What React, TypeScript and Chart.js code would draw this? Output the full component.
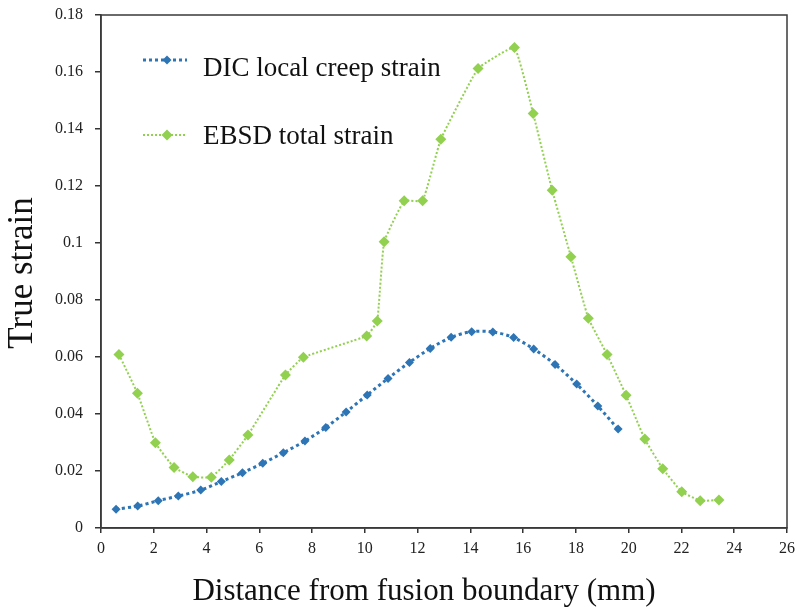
import { useEffect, useRef } from "react";
import { Chart, registerables } from "chart.js";

Chart.register(...registerables);

const seriesNames = ["DIC local creep strain", "EBSD total strain"];
const xTitle = "Distance from fusion boundary (mm)";
const yTitle = "True strain";

const dicX = [0.57, 1.39, 2.17, 2.93, 3.78, 4.56, 5.36, 6.13, 6.91, 7.73, 8.52, 9.29, 10.09, 10.88, 11.69, 12.48, 13.27, 14.05, 14.85, 15.64, 16.4, 17.21, 18.03, 18.83, 19.6];
const dicY = [0.0066, 0.0077, 0.0096, 0.0112, 0.0133, 0.0163, 0.0194, 0.0227, 0.0264, 0.0305, 0.0353, 0.0407, 0.0467, 0.0525, 0.0581, 0.063, 0.0669, 0.0689, 0.0688, 0.0668, 0.0628, 0.0574, 0.0505, 0.0428, 0.0347];

const ebsdX = [0.68, 1.38, 2.06, 2.77, 3.48, 4.18, 4.86, 5.57, 6.99, 7.67, 10.07, 10.47, 10.73, 11.49, 12.19, 12.88, 14.29, 15.67, 16.38, 17.1, 17.81, 18.47, 19.18, 19.9, 20.61, 21.29, 22.01, 22.71, 23.42];
const ebsdY = [0.0609, 0.0473, 0.0299, 0.0212, 0.018, 0.0178, 0.0239, 0.0326, 0.0537, 0.0599, 0.0674, 0.0726, 0.1004, 0.1148, 0.1148, 0.1364, 0.1612, 0.1686, 0.1454, 0.1185, 0.0952, 0.0736, 0.0609, 0.0466, 0.0312, 0.0208, 0.0127, 0.0096, 0.0098];

const xTicks = [0, 2, 4, 6, 8, 10, 12, 14, 16, 18, 20, 22, 24, 26];
const yTicks = [0, 0.02, 0.04, 0.06, 0.08, 0.1, 0.12, 0.14, 0.16, 0.18];
const yTickLabels = ["0", "0.02", "0.04", "0.06", "0.08", "0.1", "0.12", "0.14", "0.16", "0.18"];

const BLUE = "#2e75b6";
const GREEN = "#92d050";
const SERIF = "'Liberation Serif', 'Times New Roman', serif";

function diamond(ctx: CanvasRenderingContext2D, x: number, y: number, r: number, color: string) {
  ctx.beginPath();
  ctx.moveTo(x, y - r);
  ctx.lineTo(x + r, y);
  ctx.lineTo(x, y + r);
  ctx.lineTo(x - r, y);
  ctx.closePath();
  ctx.fillStyle = color;
  ctx.fill();
}

const decor = {
  id: "decor",
  afterDraw(chart: any) {
    const ctx: CanvasRenderingContext2D = chart.ctx;
    const a = chart.chartArea;
    ctx.save();
    ctx.strokeStyle = "#3a3a3a";
    ctx.lineWidth = 1.5;
    ctx.strokeRect(a.left, a.top, a.right - a.left, a.bottom - a.top);

    // legend inside plot
    const rows = [
      { lineY: a.top + 45, baseY: a.top + 61 },
      { lineY: a.top + 120, baseY: a.top + 129 },
    ];
    chart.data.datasets.forEach((ds: any, i: number) => {
      const r = rows[i];
      ctx.save();
      ctx.strokeStyle = ds.borderColor;
      ctx.lineWidth = ds.borderWidth;
      ctx.setLineDash(ds.borderDash);
      ctx.beginPath();
      ctx.moveTo(a.left + 42, r.lineY);
      ctx.lineTo(a.left + 86, r.lineY);
      ctx.stroke();
      ctx.setLineDash([]);
      diamond(ctx, a.left + 66, r.lineY, ds.pointRadius, ds.pointBackgroundColor);
      ctx.restore();
      ctx.fillStyle = "#111";
      ctx.font = `27px ${SERIF}`;
      ctx.textAlign = "left";
      ctx.textBaseline = "alphabetic";
      ctx.fillText(ds.label, a.left + 102, r.baseY);
    });

    // axis titles
    ctx.fillStyle = "#111";
    ctx.textAlign = "center";
    ctx.textBaseline = "alphabetic";
    ctx.font = `31px ${SERIF}`;
    ctx.fillText(xTitle, 424, 600);
    ctx.save();
    ctx.translate(32, 273);
    ctx.rotate(-Math.PI / 2);
    ctx.font = `35px ${SERIF}`;
    ctx.fillText(yTitle, 0, 0);
    ctx.restore();
    ctx.restore();
  },
};

export default function App() {
  const ref = useRef<HTMLCanvasElement | null>(null);
  useEffect(() => {
    if (!ref.current) return;
    const chart = new Chart(ref.current, {
      type: "scatter",
      data: {
        datasets: [
          {
            label: seriesNames[0],
            data: dicX.map((x, i) => ({ x, y: dicY[i] })),
            showLine: true,
            borderColor: BLUE,
            borderWidth: 3,
            borderDash: [3, 3],
            tension: 0.3,
            pointStyle: "rectRot",
            pointRadius: 4.5,
            pointBackgroundColor: BLUE,
            pointBorderColor: BLUE,
            pointBorderWidth: 0,
          },
          {
            label: seriesNames[1],
            data: ebsdX.map((x, i) => ({ x, y: ebsdY[i] })),
            showLine: true,
            borderColor: GREEN,
            borderWidth: 2,
            borderDash: [2, 2],
            tension: 0.1,
            pointStyle: "rectRot",
            pointRadius: 5.5,
            pointBackgroundColor: GREEN,
            pointBorderColor: GREEN,
            pointBorderWidth: 0,
          },
        ],
      },
      options: {
        responsive: false,
        animation: false,
        devicePixelRatio: 1,
        layout: { padding: { left: 0, top: 15, right: 10, bottom: 0 } },
        plugins: { legend: { display: false }, tooltip: { enabled: false } },
        scales: {
          x: {
            type: "linear",
            min: 0,
            max: 26,
            afterFit: (s: any) => {
              s.height = 79;
              s.paddingLeft = 0;
              s.paddingRight = 0;
            },
            afterBuildTicks: (s: any) => {
              s.ticks = xTicks.map((v) => ({ value: v }));
            },
            grid: { display: true, drawOnChartArea: false, drawTicks: true, tickLength: 5, color: "#333", lineWidth: 1.5 },
            border: { display: true, color: "#3a3a3a", width: 1.5 },
            ticks: { color: "#222", padding: 6, font: { family: SERIF, size: 16 }, maxRotation: 0, autoSkip: false },
          },
          y: {
            type: "linear",
            min: 0,
            max: 0.18,
            afterFit: (s: any) => {
              s.width = 101;
              s.paddingTop = 0;
              s.paddingBottom = 0;
            },
            afterBuildTicks: (s: any) => {
              s.ticks = yTicks.map((v) => ({ value: v }));
            },
            grid: { display: true, drawOnChartArea: false, drawTicks: true, tickLength: 6, color: "#333", lineWidth: 1.5 },
            border: { display: true, color: "#3a3a3a", width: 1.5 },
            ticks: {
              color: "#222",
              padding: 12,
              font: { family: SERIF, size: 16 },
              autoSkip: false,
              callback: (v: any) => {
                const i = yTicks.findIndex((t) => Math.abs(t - Number(v)) < 1e-9);
                return i >= 0 ? yTickLabels[i] : "";
              },
            },
          },
        },
      },
      plugins: [decor],
    });
    return () => chart.destroy();
  }, []);
  return (
    <div style={{ position: "fixed", left: 0, top: 0, width: 797, height: 607, background: "#fff" }}>
      <canvas ref={ref} width={797} height={607} style={{ display: "block" }} />
    </div>
  );
}
